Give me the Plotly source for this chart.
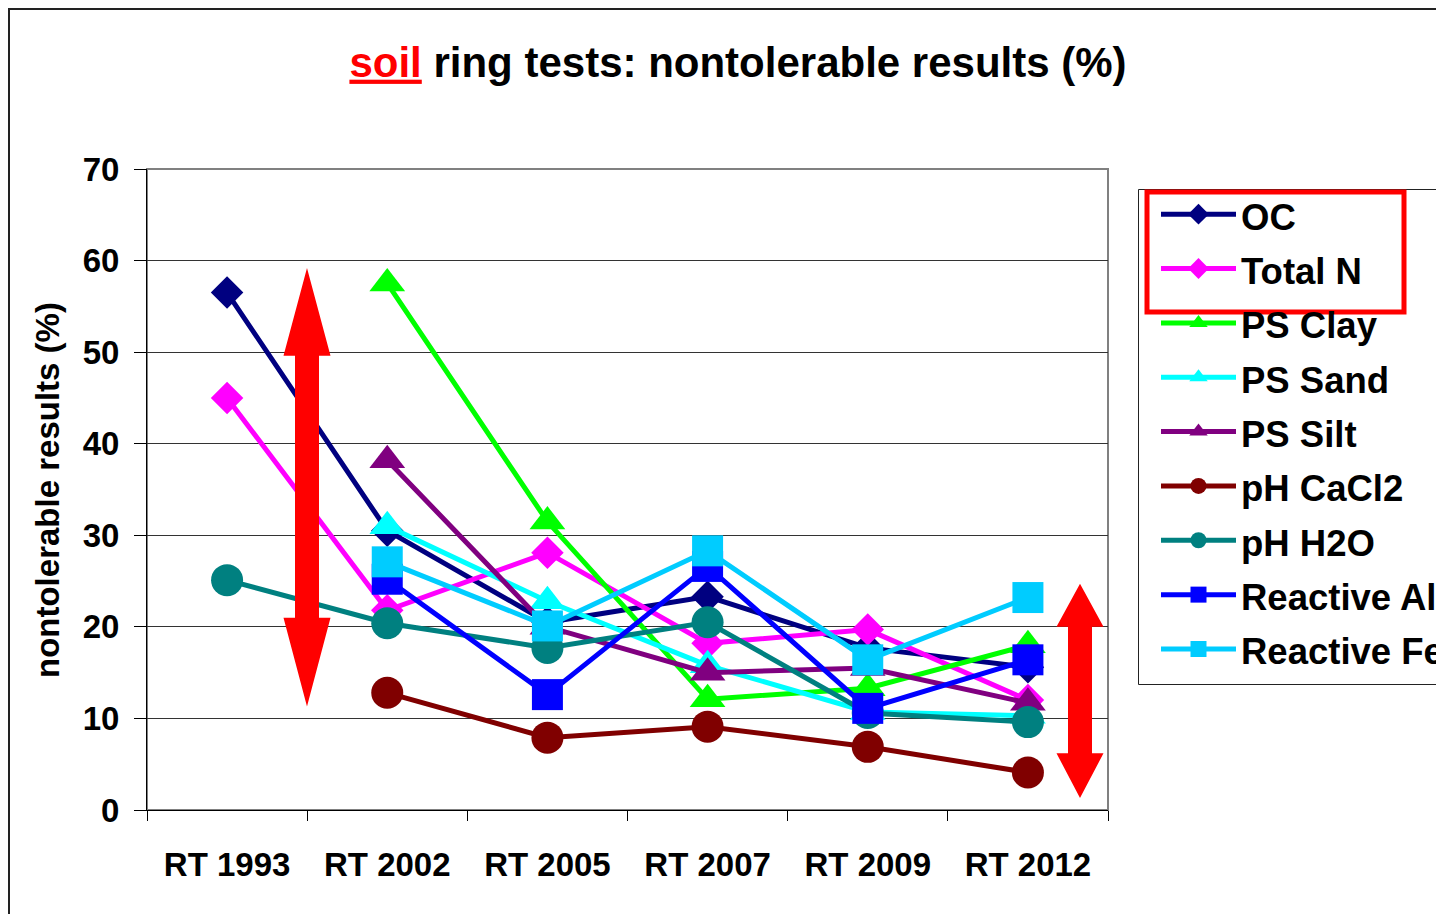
import plotly.graph_objects as go

categories = ["RT 1993", "RT 2002", "RT 2005", "RT 2007", "RT 2009", "RT 2012"]

oc = [56.5, 30.5, 20.5, 23.3, 17.7, 15.6]
total_n = [45.0, 21.8, 28.1, 18.2, 19.7, 12.0]
ps_clay = [None, 57.5, 31.5, 12.1, 13.3, 18.0]
ps_sand = [None, 31.0, 22.8, 15.8, 10.7, 10.3]
ps_silt = [None, 38.2, 20.0, 15.0, 15.5, 11.7]
ph_cacl2 = [None, 12.8, 7.9, 9.1, 6.9, 4.1]
ph_h2o = [25.1, 20.4, 17.7, 20.5, 10.6, 9.6]
reactive_al = [None, 25.2, 12.6, 26.6, 11.1, 16.4]
reactive_fe = [None, 27.1, 20.1, 28.3, 16.4, 23.2]

series = [
    ("OC", oc, "#000080", "diamond", 25),
    ("Total N", total_n, "#FF00FF", "diamond", 25),
    ("PS Clay", ps_clay, "#00FF00", "triangle-up", 31),
    ("PS Sand", ps_sand, "#00FFFF", "triangle-up", 31),
    ("PS Silt", ps_silt, "#800080", "triangle-up", 31),
    ("pH CaCl2", ph_cacl2, "#800000", "circle", 32),
    ("pH H2O", ph_h2o, "#008080", "circle", 32),
    ("Reactive Al", reactive_al, "#0000FF", "square", 31),
    ("Reactive Fe", reactive_fe, "#00CCFF", "square", 31),
]

FONT = "Arial, Liberation Sans, sans-serif"

fig = go.Figure()
for name, vals, color, sym, size in series:
    fig.add_trace(go.Scatter(
        x=categories, y=vals, name=f'<span style="font-size:36.5px">{name}</span>',
        mode="lines+markers",
        line=dict(color=color, width=5),
        marker=dict(symbol=sym, size=size, color=color, line=dict(width=0)),
    ))

# page offset of the figure inside the browser (body margin)
OFF = 8
W, H = 1444, 914
# target page-pixel positions of the plot area
PL, PR, PT, PB = 147, 1108, 169, 810
L = PL - OFF
T = PT - OFF
pw = PR - PL
ph = PB - PT
R = W - L - pw
B = H - T - ph

def px_x(p):
    return (p - PL) / pw

def px_y(p):
    return (PB - p) / ph

def arrow_path(cx, y_tip_top, y_base_top, y_base_bot, y_tip_bot, half_shaft, half_head):
    pts = [
        (cx, y_tip_top),
        (cx + half_head, y_base_top),
        (cx + half_shaft, y_base_top),
        (cx + half_shaft, y_base_bot),
        (cx + half_head, y_base_bot),
        (cx, y_tip_bot),
        (cx - half_head, y_base_bot),
        (cx - half_shaft, y_base_bot),
        (cx - half_shaft, y_base_top),
        (cx - half_head, y_base_top),
    ]
    return "M " + " L ".join(f"{x:.5f},{y:.3f}" for x, y in pts) + " Z"

shapes = []
shapes.append(dict(type="rect", xref="paper", yref="paper", x0=0, x1=1, y0=0, y1=1,
                   line=dict(color="#808080", width=2), layer="below"))
# outer frame
shapes.append(dict(type="rect", xref="paper", yref="paper",
                   x0=px_x(9), x1=px_x(1500), y0=px_y(960), y1=px_y(9),
                   line=dict(color="#222222", width=2)))
# red double arrows
hs = 12 / pw
hh = 23.5 / pw
shapes.append(dict(type="path", xref="paper", yref="y",
                   path=arrow_path(px_x(307), 59.2, 49.6, 21.0, 11.3, hs, hh),
                   fillcolor="#FF0000", line=dict(width=0)))
shapes.append(dict(type="path", xref="paper", yref="y",
                   path=arrow_path(px_x(1080), 24.7, 20.0, 6.2, 1.3, hs, hh),
                   fillcolor="#FF0000", line=dict(width=0)))
# legend frame
shapes.append(dict(type="rect", xref="paper", yref="paper",
                   x0=px_x(1138.5), x1=px_x(1500), y0=px_y(684.5), y1=px_y(189.5),
                   line=dict(color="#222222", width=1), fillcolor="rgba(0,0,0,0)"))
# red box around OC / Total N in legend
shapes.append(dict(type="rect", xref="paper", yref="paper",
                   x0=px_x(1147), x1=px_x(1404), y0=px_y(312), y1=px_y(192),
                   line=dict(color="#FF0000", width=5)))

fig.update_layout(
    width=W, height=H,
    margin=dict(l=L, r=R, t=T, b=B, pad=0, autoexpand=False),
    paper_bgcolor="white", plot_bgcolor="white",
    font=dict(family=FONT, color="black"),
    title=dict(
        text='<b><span style="color:#FF0000"><u>soil</u></span> ring tests: nontolerable results (%)</b>',
        font=dict(size=42, family=FONT, color="black"),
        x=(738 - OFF) / W, xref="container", xanchor="center",
        y=1 - (62 - OFF) / H, yref="container", yanchor="middle",
    ),
    xaxis=dict(
        type="category", categoryorder="array", categoryarray=categories,
        range=[-0.5, 5.5],
        showgrid=False, zeroline=False,
        showline=True, linecolor="black", linewidth=1,
        ticks="outside", ticklen=10, tickcolor="black", tickwidth=1,
        tickson="boundaries",
        tickfont=dict(size=33, family=FONT, color="black", weight="bold"),
        ticklabelstandoff=25,
    ),
    yaxis=dict(
        range=[0, 70], dtick=10, tick0=0,
        showgrid=True, gridcolor="#333333", gridwidth=1,
        zeroline=False,
        showline=True, linecolor="black", linewidth=1,
        ticks="outside", ticklen=12, tickcolor="black", tickwidth=1,
        tickfont=dict(size=33, family=FONT, color="black", weight="bold"),
        ticklabelstandoff=8,
    ),
    legend=dict(
        x=px_x(1156), y=px_y(182), xanchor="left", yanchor="top",
        xref="paper", yref="paper",
        bgcolor="rgba(0,0,0,0)", borderwidth=0,
        font=dict(size=39.5, family=FONT, color="black", weight="bold"),
        itemwidth=75,
        tracegroupgap=0,
    ),
    showlegend=True,
    shapes=shapes,
    annotations=[dict(
        text="<b>nontolerable results (%)</b>",
        xref="paper", yref="paper", x=px_x(47), y=px_y(490),
        xanchor="center", yanchor="middle", textangle=-90,
        showarrow=False, font=dict(size=33, family=FONT, color="black"),
    )],
)

fig.write_html("out.html")
